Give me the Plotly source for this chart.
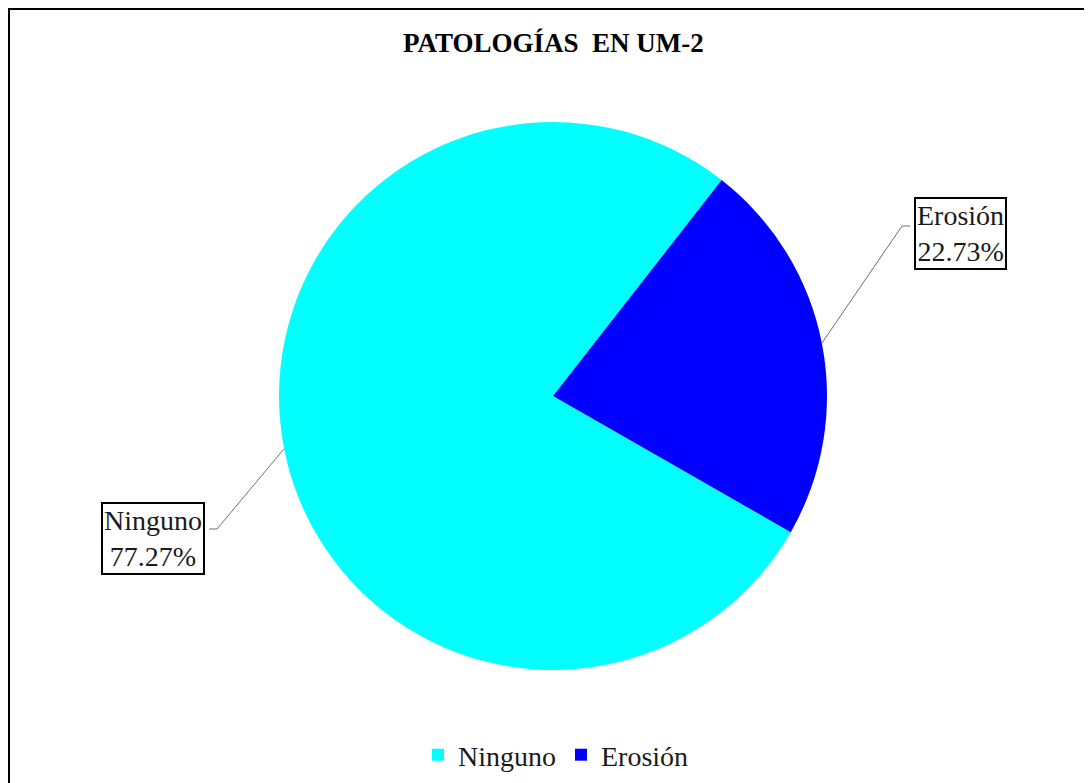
import math
import plotly.graph_objects as go

# datos del gráfico
categorias = ["Ninguno", "Erosión"]
valores = [17, 5]
colores = ["#00FFFF", "#0000FF"]

W, H = 1092, 783
OFF = 8  # margen por defecto del <body> de la página
FUENTE = "Liberation Serif, Times New Roman, serif"

# geometría del pastel (píxeles de la imagen)
cx, cy, r = 553, 396, 274
rotacion = 119.8  # inicio de "Ninguno", sentido horario


def px(x):
    return (x - OFF) / W


def py(y):
    return 1 - (y - OFF) / H


fig = go.Figure()
fig.add_trace(go.Pie(
    labels=categorias,
    values=valores,
    sort=False,
    direction="clockwise",
    rotation=rotacion,
    marker=dict(colors=colores, line=dict(width=0)),
    textinfo="none",
    hoverinfo="label+percent",
    domain=dict(x=[px(cx - r), px(cx + r)], y=[py(cy + r), py(cy - r)]),
))

# cajas de etiquetas y líneas guía: centro caja, codo de la línea, borde de caja
cajas = {"Ninguno": (153, 538, 217, 529, 209), "Erosión": (960, 234, 902, 226, 910)}
total = sum(valores)
acum = 0
shapes = [dict(type="rect", xref="paper", yref="paper",
               x0=px(8.5), x1=px(1090.5), y0=py(8.5), y1=-0.05,
               line=dict(color="black", width=3))]
anotaciones = []
for cat, val in zip(categorias, valores):
    medio = rotacion + (acum + val / 2) / total * 360
    acum += val
    ang = math.radians(medio)
    sx = cx + r * math.sin(ang)
    sy = cy - r * math.cos(ang)
    bx, by, ex, ey, borde = cajas[cat]
    shapes.append(dict(
        type="path", xref="paper", yref="paper",
        path=f"M {px(sx)},{py(sy)} L {px(ex)},{py(ey)} L {px(borde)},{py(ey)}",
        line=dict(color="#707070", width=1),
    ))
    anotaciones.append(dict(
        x=px(bx), y=py(by), xref="paper", yref="paper",
        xanchor="center", yanchor="middle",
        text=f"{cat}<br>{val / total * 100:.2f}%",
        showarrow=False, align="center",
        font=dict(family=FUENTE, size=28, color="#1a1a1a"),
        bgcolor="white", bordercolor="black", borderwidth=2, borderpad=1,
    ))

anotaciones.append(dict(
    x=px(553), y=py(43), xref="paper", yref="paper",
    xanchor="center", yanchor="middle",
    text="<b>PATOLOGÍAS&nbsp; EN UM-2</b>", showarrow=False,
    font=dict(family=FUENTE, size=27, color="black"),
))

fig.update_layout(
    width=W, height=H,
    margin=dict(l=0, r=0, t=0, b=0),
    paper_bgcolor="white",
    showlegend=True,
    legend=dict(orientation="h", x=px(556), xanchor="center", y=py(755), yanchor="middle",
                font=dict(family=FUENTE, size=28, color="#1a1a1a"),
                itemwidth=30, traceorder="normal"),
    shapes=shapes,
    annotations=anotaciones,
)

fig.write_html("out.html")
